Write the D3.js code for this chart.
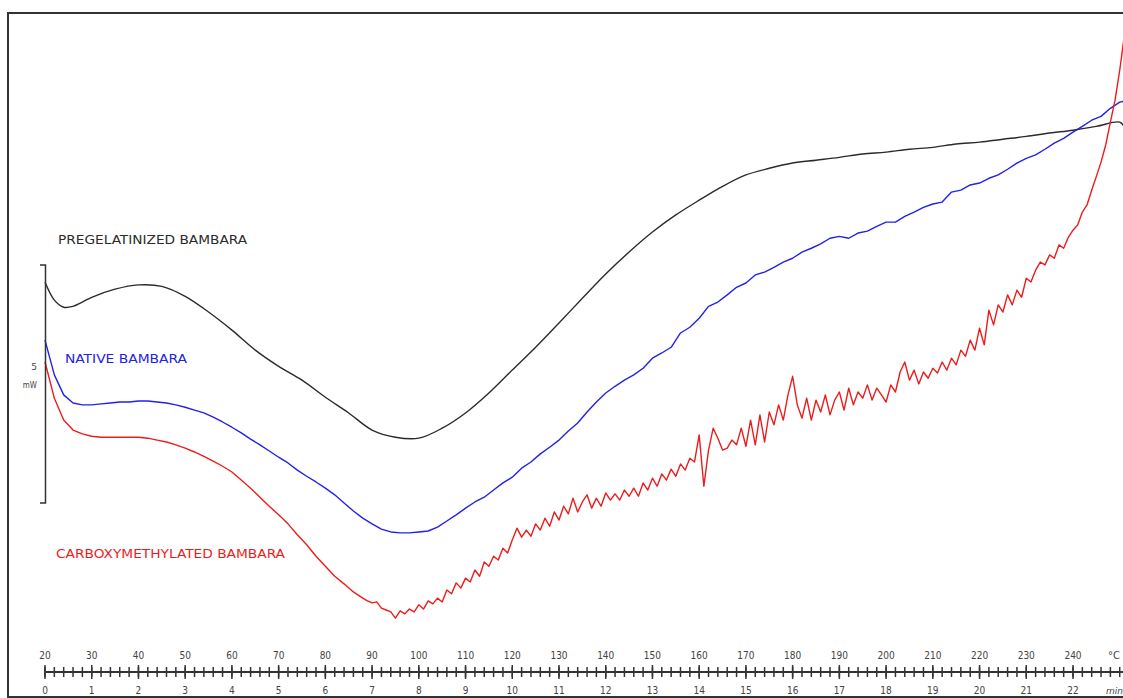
<!DOCTYPE html>
<html>
<head>
<meta charset="utf-8">
<script src="https://cdn.jsdelivr.net/npm/d3@7"></script>
<style>
  body { margin: 0; background: #fff; }
  svg { display: block; font-family: "DejaVu Sans", sans-serif; }
</style>
</head>
<body>
<div id="dsc"></div>
<script>
// heat flow readings (mW, arbitrary baseline) against temperature (°C)
var blackTemp = [20, 22, 24, 26, 28, 30, 35, 40, 45, 50, 55, 60, 65, 70, 75, 80, 85, 90, 95, 100,
  105, 110, 115, 120, 125, 130, 135, 140, 145, 150, 155, 160, 165, 170, 175, 180, 185, 190, 195, 200,
  205, 210, 215, 220, 225, 230, 235, 240, 245, 250, 251];
var pregelatinized = [7.73, 7.35, 7.20, 7.22, 7.31, 7.41, 7.58, 7.67, 7.64, 7.43, 7.10, 6.72, 6.30, 5.96, 5.67, 5.31, 4.98, 4.62, 4.47, 4.45,
  4.66, 4.98, 5.40, 5.88, 6.36, 6.87, 7.39, 7.90, 8.36, 8.78, 9.14, 9.45, 9.74, 9.98, 10.12, 10.23, 10.29, 10.35, 10.42, 10.46,
  10.52, 10.56, 10.63, 10.67, 10.73, 10.79, 10.86, 10.92, 11.00, 11.09, 10.98];

// sampled every 2 °C from 20 to 250, plus 251
var blueTemp = d3.range(20, 251, 2).concat([251]);
var native = [6.51, 5.78, 5.36, 5.19, 5.15, 5.15, 5.17, 5.19, 5.21, 5.21,
  5.23, 5.23, 5.21, 5.19, 5.15, 5.10, 5.04, 4.98, 4.89, 4.79,
  4.68, 4.56, 4.43, 4.31, 4.18, 4.05, 3.93, 3.78, 3.65, 3.53,
  3.40, 3.26, 3.09, 2.92, 2.77, 2.65, 2.54, 2.48, 2.46, 2.46,
  2.48, 2.50, 2.58, 2.71, 2.84, 2.98, 3.11, 3.21, 3.36, 3.51,
  3.63, 3.82, 3.95, 4.12, 4.26, 4.41, 4.60, 4.77, 5.00, 5.21,
  5.40, 5.54, 5.67, 5.78, 5.92, 6.13, 6.24, 6.36, 6.66, 6.78,
  6.97, 7.22, 7.31, 7.46, 7.62, 7.71, 7.88, 7.94, 8.04, 8.15,
  8.23, 8.36, 8.44, 8.53, 8.65, 8.69, 8.65, 8.76, 8.80, 8.90,
  8.99, 8.99, 9.11, 9.20, 9.30, 9.37, 9.41, 9.62, 9.66, 9.77,
  9.81, 9.91, 9.98, 10.10, 10.23, 10.33, 10.40, 10.52, 10.65, 10.75,
  10.88, 11.00, 11.13, 11.21, 11.38, 11.51, 11.53];

// every 2 °C up to 88, then every 1 °C up to 251
var redTemp = d3.range(20, 89, 2).concat(d3.range(89, 252));
var carboxymethylated = [6.05, 5.29, 4.83, 4.62, 4.54, 4.49, 4.47, 4.47, 4.47, 4.47,
  4.47, 4.45, 4.41, 4.37, 4.31, 4.24, 4.16, 4.07, 3.97, 3.86,
  3.74, 3.57, 3.40, 3.21, 3.02, 2.84, 2.65, 2.42, 2.21, 1.97,
  1.76, 1.55, 1.39, 1.22, 1.09,
  // 89 ->
  1.03, 0.99, 1.01, 0.88, 0.84, 0.80, 0.67, 0.82, 0.76, 0.86,
  0.80, 0.95, 0.86, 1.03, 0.97, 1.09, 1.01, 1.26, 1.18, 1.41,
  1.30, 1.51, 1.43, 1.68, 1.55, 1.85, 1.76, 1.97, 1.89, 2.14,
  2.04, 2.31, 2.56, 2.37, 2.52, 2.39, 2.65, 2.52, 2.77, 2.60,
  2.90, 2.73, 3.02, 2.86, 3.19, 2.90, 3.11, 3.26, 2.98, 3.19,
  3.02, 3.30, 3.15,
  // 142 ->
  3.28, 3.15, 3.36, 3.23, 3.40, 3.23, 3.51, 3.36, 3.61, 3.44,
  3.70, 3.57, 3.80, 3.65, 3.91, 3.78, 4.03, 3.95, 4.52, 3.44,
  4.20, 4.66, 4.45, 4.20, 4.24, 4.41, 4.31, 4.66, 4.28, 4.83,
  4.31, 4.94, 4.37, 5.00, 4.73, 5.15, 4.83, 5.36, 5.75, 5.15,
  4.87, 5.29, 4.83, 5.25, 5.00, 5.36, 4.94, 5.25, 5.42, 5.04,
  5.50, 5.15, 5.42, 5.29, 5.57, 5.25, 5.50, 5.36, 5.21, 5.57,
  5.42, 5.84, 6.05, 5.67, 5.88, 5.59, 5.84, 5.71, 5.92, 5.82,
  6.05, 5.88, 6.13, 5.99, 6.30, 6.17, 6.51, 6.30, 6.76, 6.41,
  7.14, 6.83, 7.25, 7.10, 7.46, 7.25, 7.56, 7.41, 7.81, 7.73,
  7.98, 8.15, 8.09, 8.30, 8.23, 8.51, 8.44, 8.67, 8.82, 8.93,
  9.20, 9.35, 9.66, 9.95, 10.25, 10.61, 11.09, 11.55, 12.18, 12.92];

var tempTicks = d3.range(20, 241, 10);
var minuteTicks = d3.range(0, 23);
var minorTicks = d3.range(20, 251, 2);
var scaleBarLow = 3.09, scaleBarMW = 5;

var series = [
  {name: "PREGELATINIZED BAMBARA", temp: blackTemp, vals: pregelatinized, color: "#2b2b2b",
   curve: d3.curveCatmullRom, lx: 58, ly: 244, lw: 189},
  {name: "NATIVE BAMBARA", temp: blueTemp, vals: native, color: "#2222e6",
   curve: d3.curveLinear, lx: 65, ly: 363, lw: 122},
  {name: "CARBOXYMETHYLATED BAMBARA", temp: redTemp, vals: carboxymethylated, color: "#ec1c1c",
   curve: d3.curveLinear, lx: 56, ly: 558, lw: 229}
];

var W = 1123, H = 698;
var svg = d3.select("#dsc").append("svg")
  .attr("width", W)
  .attr("height", H);

// temperature -> px, heat flow -> px (5 mW ~ 238 px)
var x = d3.scaleLinear().domain([20, 240]).range([45, 1073]);
var y = d3.scaleLinear().domain([0, 10]).range([650, 174]);

// frame
svg.append("rect")
  .attr("x", 8).attr("y", 13)
  .attr("width", W).attr("height", H - 14)
  .attr("fill", "none")
  .attr("stroke", "#333")
  .attr("stroke-width", 2);

// curves
series.forEach(s => {
  var pts = s.temp.map((t, i) => [t, s.vals[i]]).filter(d => d[1] !== undefined);
  var line = d3.line()
    .curve(s.curve)
    .x(d => x(d[0]))
    .y(d => y(d[1]));
  svg.append("path")
    .datum(pts)
    .attr("fill", "none")
    .attr("stroke", s.color)
    .attr("stroke-width", 1.4)
    .attr("stroke-linejoin", "round")
    .attr("d", line);

  svg.append("text")
    .attr("x", s.lx)
    .attr("y", s.ly)
    .attr("fill", s.color)
    .style("font-size", "13px")
    .style("font-stretch", "condensed")
    .attr("textLength", s.lw)
    .attr("lengthAdjust", "spacingAndGlyphs")
    .text(s.name);
});

// 5 mW scale bar
var sb = svg.append("g").attr("stroke", "#333").attr("stroke-width", 1.5).attr("fill", "none");
sb.append("path")
  .attr("d", "M40," + y(scaleBarLow + scaleBarMW) + "H45.5V" + y(scaleBarLow) + "H40");
svg.append("text")
  .attr("x", 37).attr("y", 370)
  .attr("text-anchor", "end")
  .attr("fill", "#444")
  .style("font-size", "9px")
  .text(scaleBarMW);
svg.append("text")
  .attr("x", 37).attr("y", 388)
  .attr("text-anchor", "end")
  .attr("fill", "#444")
  .style("font-size", "8px")
  .style("font-stretch", "condensed")
  .text("mW");

// bottom ruler: temperature on top, minutes below
var rulerY = 672;
var ruler = svg.append("g").attr("stroke", "#333");
ruler.append("line")
  .attr("x1", x(20)).attr("x2", W)
  .attr("y1", rulerY).attr("y2", rulerY)
  .attr("stroke-width", 2);
ruler.selectAll(".minor")
  .data(minorTicks)
  .join("line")
  .attr("x1", d => x(d)).attr("x2", d => x(d))
  .attr("y1", rulerY - 5).attr("y2", rulerY + 5)
  .attr("stroke-width", 1.5);
ruler.selectAll(".major")
  .data(tempTicks)
  .join("line")
  .attr("x1", d => x(d)).attr("x2", d => x(d))
  .attr("y1", rulerY - 7).attr("y2", rulerY + 7)
  .attr("stroke-width", 1.5);

svg.append("g").selectAll("text")
  .data(tempTicks)
  .join("text")
  .attr("x", d => x(d))
  .attr("y", 659)
  .attr("text-anchor", "middle")
  .attr("fill", "#444")
  .style("font-size", "10px")
  .style("font-stretch", "condensed")
  .text(d => d);

svg.append("g").selectAll("text")
  .data(minuteTicks)
  .join("text")
  .attr("x", d => x(20 + d * 10))
  .attr("y", 694)
  .attr("text-anchor", "middle")
  .attr("fill", "#444")
  .style("font-size", "10px")
  .style("font-stretch", "condensed")
  .text(d => d);

svg.append("text")
  .attr("x", 1108).attr("y", 659)
  .attr("fill", "#444")
  .style("font-size", "10px")
  .text("°C");
svg.append("text")
  .attr("x", 1106).attr("y", 694)
  .attr("fill", "#444")
  .style("font-size", "9px")
  .style("font-style", "italic")
  .text("min");
</script>
</body>
</html>
